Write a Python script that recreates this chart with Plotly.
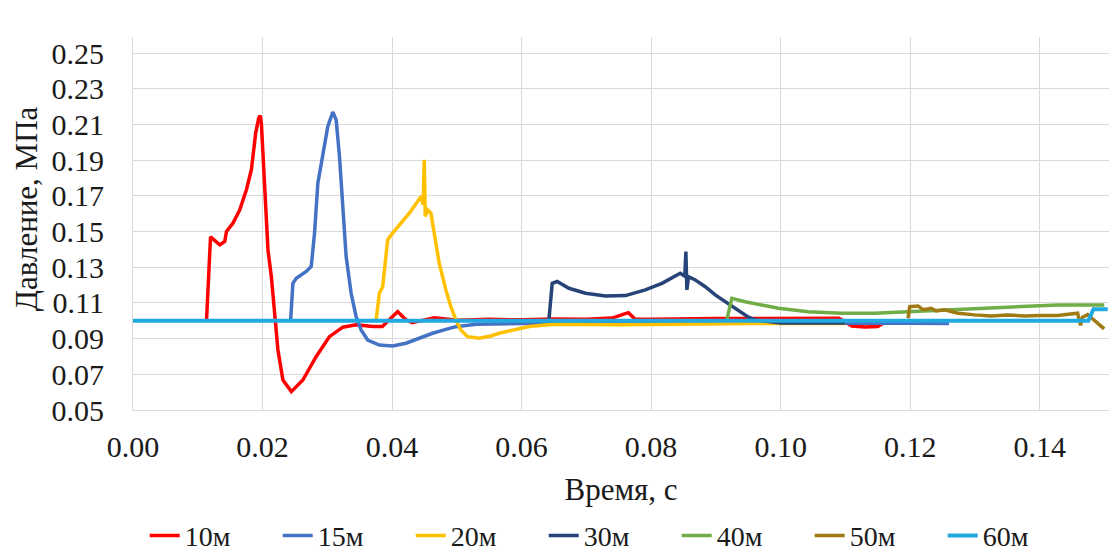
import plotly.graph_objects as go

# Time in milliseconds, pressure in MPa for each sensor distance
t_10m = [11.35, 11.97, 13.40, 14.17, 14.43, 15.45, 16.48, 17.51, 18.28, 18.94, 19.41, 19.64, 19.82,
         20.33, 20.84, 21.36, 21.87, 22.38, 23.15, 24.45, 26.23, 28.29, 30.34, 32.39, 34.45, 37.01,
         38.50, 39.58, 40.86, 42.15, 43.12, 45.0, 46.5, 50.0, 55.0, 60.0, 65.0, 70.0, 74.0, 76.0,
         76.5, 77.5, 80.0, 90.0, 100.0, 109.0, 111.0, 113.0, 115.0, 116.0]
p_10m = [0.100, 0.147, 0.1425, 0.1444, 0.150, 0.1547, 0.1621, 0.1734, 0.1846, 0.2051, 0.2136, 0.2150,
         0.2108, 0.1771, 0.1397, 0.1247, 0.1025, 0.0836, 0.0668, 0.0603, 0.0668, 0.0800, 0.0911,
         0.0964, 0.0977, 0.0968, 0.0968, 0.1005, 0.1051, 0.1005, 0.0990, 0.1005, 0.1017, 0.1003,
         0.1008, 0.1005, 0.1010, 0.1008, 0.1015, 0.1040, 0.1045, 0.1010, 0.1008, 0.1012, 0.1015,
         0.1014, 0.0970, 0.0965, 0.0968, 0.0990]

t_15m = [24.33, 24.69, 25.21, 26.75, 27.52, 28.03, 28.54, 29.31, 30.08, 30.85, 31.37, 31.88, 32.39,
         32.91, 33.68, 34.45, 35.22, 36.24, 38.04, 40.09, 42.15, 44.20, 46.25, 48.31, 49.85, 53.0,
         60.0, 70.0, 80.0, 90.0, 100.0, 110.0, 120.0, 126.0]
p_15m = [0.100, 0.1210, 0.1238, 0.1276, 0.1304, 0.1491, 0.1771, 0.1921, 0.2089, 0.2170, 0.2126,
         0.1921, 0.1640, 0.1360, 0.1154, 0.1023, 0.0949, 0.0892, 0.0864, 0.0859, 0.0874, 0.0902,
         0.0930, 0.0952, 0.0967, 0.0980, 0.0985, 0.0985, 0.0986, 0.0985, 0.0984, 0.0985, 0.0986,
         0.0985]

t_20m = [37.53, 38.04, 38.55, 39.32, 40.09, 41.38, 42.66, 43.94, 44.46, 44.80, 44.97, 45.13, 45.48,
         46.00, 46.51, 47.28, 48.31, 49.08, 49.85, 50.62, 51.64, 53.44, 55.24, 56.52, 61.14, 65.0,
         75.0, 85.0, 95.0, 105.0, 110.0]
p_20m = [0.100, 0.1154, 0.1191, 0.1453, 0.1491, 0.1547, 0.1603, 0.1668, 0.1696, 0.1650, 0.1902,
         0.1584, 0.1621, 0.1603, 0.1491, 0.1323, 0.1173, 0.1079, 0.1005, 0.0949, 0.0911, 0.0902,
         0.0915, 0.0930, 0.0968, 0.0980, 0.0978, 0.0982, 0.0984, 0.0985, 0.0985]

t_30m = [64.22, 64.73, 65.50, 67.30, 69.87, 72.95, 76.03, 79.11, 81.67, 83.73, 84.50, 85.20, 85.37,
         85.52, 85.78, 86.81, 88.36, 89.90, 91.44, 93.49, 95.03, 96.06, 100.0, 105.0, 110.0]
p_30m = [0.1005, 0.1210, 0.1220, 0.1182, 0.1154, 0.1139, 0.1141, 0.1173, 0.1210, 0.1247, 0.1266,
         0.1250, 0.1388, 0.1173, 0.1247, 0.1229, 0.1191, 0.1145, 0.1107, 0.1061, 0.1020, 0.1005,
         0.0988, 0.0987, 0.0988]

t_40m = [91.69, 92.46, 94.52, 97.07, 99.65, 104.27, 109.40, 114.54, 119.67, 127.37, 132.50,
         137.64, 142.77, 147.90, 149.96]
p_40m = [0.1005, 0.1126, 0.1107, 0.1090, 0.1070, 0.1051, 0.1042, 0.1042, 0.1051, 0.1061, 0.1070,
         0.1079, 0.1089, 0.1089, 0.1089]

t_50m = [119.67, 119.93, 121.21, 122.0, 123.26, 124.0, 125.32, 127.37, 129.94, 132.50, 135.0,
         137.64, 140.0, 142.77, 145.85, 146.31, 146.62, 147.39, 148.93, 149.96]
p_50m = [0.1014, 0.1079, 0.1083, 0.1062, 0.1070, 0.1055, 0.1061, 0.1042, 0.1033, 0.1027, 0.1032,
         0.1027, 0.1030, 0.1030, 0.1042, 0.0975, 0.1020, 0.1035, 0.0987, 0.0955]

t_60m = [0.0, 20.0, 40.0, 60.0, 80.0, 100.0, 120.0, 140.0, 147.5, 148.3, 150.5]
p_60m = [0.100, 0.100, 0.100, 0.100, 0.100, 0.100, 0.100, 0.100, 0.100, 0.1065, 0.1065]

series = [
    ("10м", t_10m, p_10m, "#FF0000", 3.5),
    ("15м", t_15m, p_15m, "#4472C4", 3.5),
    ("20м", t_20m, p_20m, "#FFC000", 3.5),
    ("30м", t_30m, p_30m, "#264478", 3.5),
    ("40м", t_40m, p_40m, "#70AD47", 3.5),
    ("50м", t_50m, p_50m, "#A07A12", 3.5),
    ("60м", t_60m, p_60m, "#22A9E1", 4),
]

fig = go.Figure()
for name, t, p, color, w in series:
    fig.add_trace(go.Scatter(
        x=[v / 1000 for v in t], y=p, mode="lines", name=name,
        line=dict(color=color, width=w),
    ))

font_family = "Liberation Serif, Times New Roman, serif"
grid = "#D9D9D9"

fig.update_layout(
    width=1115, height=558,
    margin=dict(l=133, r=6, t=37, b=148, autoexpand=False),
    paper_bgcolor="white", plot_bgcolor="white",
    font=dict(family=font_family, size=30, color="#1a1a1a"),
    showlegend=True,
    legend=dict(
        orientation="h", x=0.012, xanchor="left", y=-0.27, yanchor="top",
        entrywidth=88, entrywidthmode="pixels",
        font=dict(size=28, family=font_family), bgcolor="rgba(0,0,0,0)",
    ),
)

# y-axis title placed as a rotated annotation to sit close to the left edge
fig.add_annotation(
    text="Давление, МПа", textangle=-90, showarrow=False,
    xref="paper", yref="paper", x=-0.109, y=0.54, xanchor="center", yanchor="middle",
    font=dict(size=31, family=font_family, color="#1a1a1a"),
)

fig.update_xaxes(
    range=[0, 0.1507], tickvals=[0, 0.02, 0.04, 0.06, 0.08, 0.10, 0.12, 0.14],
    tickformat=".2f", showgrid=True, gridcolor=grid, gridwidth=1,
    showline=True, linecolor=grid, linewidth=1, zeroline=False,
    ticks="", ticklabelstandoff=10,
    title=dict(text="Время, с", font=dict(size=31), standoff=16),
)
fig.update_yaxes(
    range=[0.05, 0.259], tickvals=[0.05, 0.07, 0.09, 0.11, 0.13, 0.15, 0.17, 0.19, 0.21, 0.23, 0.25],
    tickformat=".2f", showgrid=True, gridcolor=grid, gridwidth=1,
    showline=True, linecolor=grid, linewidth=1, zeroline=False,
    ticks="", ticklabelstandoff=22,
)

fig.write_html("out.html")
